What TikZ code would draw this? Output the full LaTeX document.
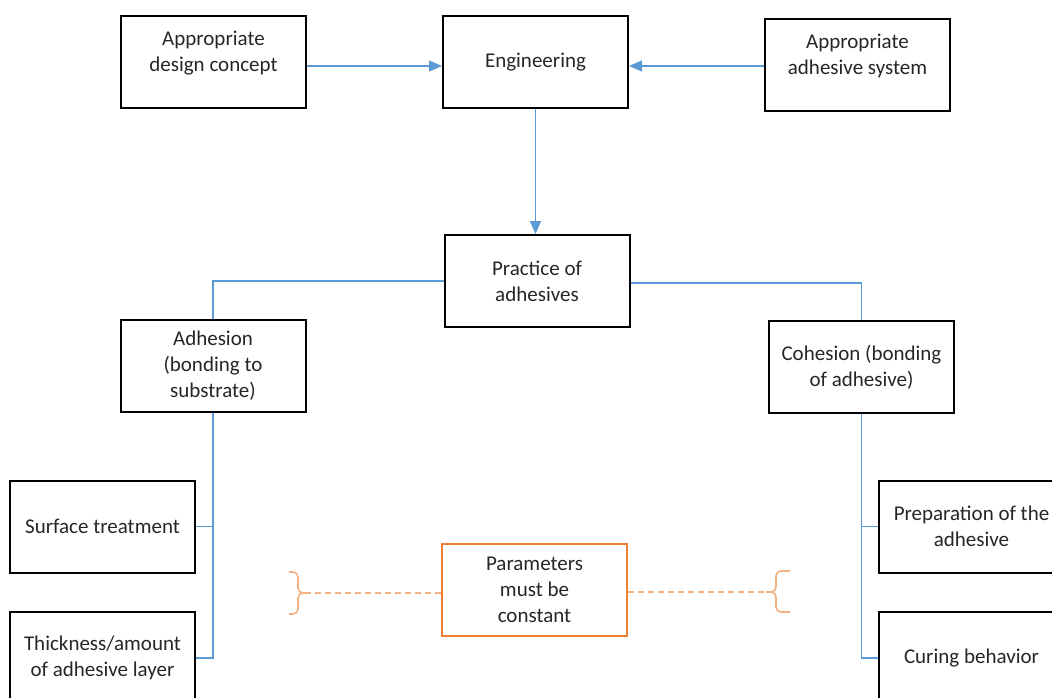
\documentclass[tikz,border=0pt]{standalone}
\usepackage{fontspec}
\setmainfont{Carlito}
\usetikzlibrary{arrows.meta}
\definecolor{lineblue}{HTML}{5B9BD5}
\definecolor{boxorange}{HTML}{ED7D31}
\definecolor{paleorange}{HTML}{F4B183}
\definecolor{txtgray}{HTML}{262626}
\begin{document}
\begin{tikzpicture}[x=1pt,y=-1pt,
  every node/.style={font=\fontsize{21}{26}\selectfont, text=txtgray},
  box/.style={draw=black, line width=2pt, minimum width=185pt, minimum height=92pt, align=center, inner sep=0pt},
  obox/.style={draw=boxorange, line width=2pt, minimum width=185pt, minimum height=92pt, align=center, inner sep=0pt},
  txt/.style={align=center, inner sep=0pt},
  conn/.style={draw=lineblue, line width=1.3pt},
  arr/.style={conn, -{Triangle[length=13pt,width=11pt]}},
  dashline/.style={draw=paleorange, line width=1.6pt, dash pattern=on 6pt off 4pt},
  brc/.style={draw=paleorange, line width=1.6pt, rounded corners=5pt}
]
\useasboundingbox (0,0) rectangle (1052,698);
\clip (0,0) rectangle (1052,698);
% top row
\node[box] (design) at (213.5,62) {};
\node[txt] (designt) at (213.5,53) {Appropriate\\design concept};
\node[box] (eng) at (535.5,62) {Engineering};
\node[box] (sys) at (857.5,65) {};
\node[txt] (syst) at (857.5,56) {Appropriate\\adhesive system};
% middle
\node[box] (prac) at (537,281) {Practice of\\adhesives};
\node[box] (adh) at (213,366) {Adhesion\\(bonding to\\substrate)};
\node[box] (coh) at (861.5,367) {Cohesion (bonding\\of adhesive)};
% bottom
\node[box] (surf) at (102.5,526.5) {Surface treatment};
\node[box] (thick) at (102.5,658) {Thickness/amount\\of adhesive layer};
\node[box] (prep) at (971.5,526.5) {Preparation of the\\adhesive};
\node[box] (cur) at (971.5,658) {Curing behavior};
\node[obox] (param) at (534.5,590) {Parameters\\must be\\constant};
% arrows
\draw[arr] ([yshift=-4pt]design.east) -- ([yshift=-4pt]eng.west);
\draw[arr] ([yshift=-1pt]sys.west) -- ([yshift=-4pt]eng.east);
\draw[arr] (eng.south) -- (eng.south |- prac.north);
% branches
\draw[conn] (prac.west) -| (adh.north);
\draw[conn] ([yshift=-2pt]prac.east) -| (coh.north);
\draw[conn] (adh.south) |- (thick.east);
\draw[conn] (surf.east) -- (surf.east -| adh.south);
\draw[conn] (coh.south) |- (cur.west);
\draw[conn] (prep.west) -- (prep.west -| coh.south);
% braces
\coordinate (lb) at (305,593);
\coordinate (rb) at (766,592);
\draw[brc] (289,572) -| (298,593) -- (lb);
\draw[brc] (289,614) -| (298,593) -- (lb);
\draw[brc] (790,571) -| (776,592) -- (rb);
\draw[brc] (790,612) -| (776,592) -- (rb);
\draw[dashline] ([yshift=-3pt]param.west) -- (lb);
\draw[dashline] ([yshift=-2pt]param.east) -- (rb);
\end{tikzpicture}
\end{document}
